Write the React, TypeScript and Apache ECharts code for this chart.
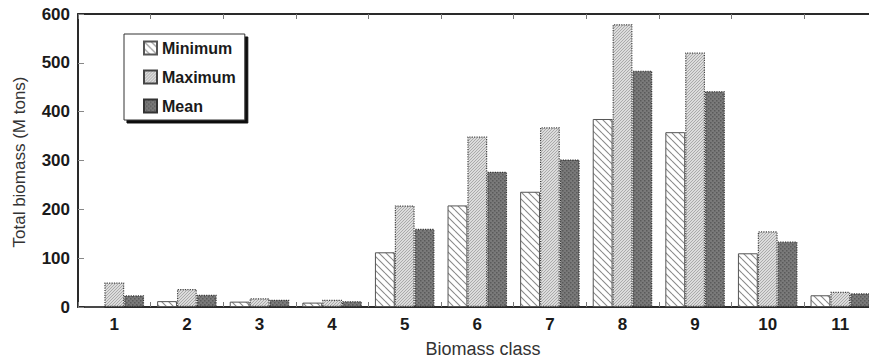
import React, { useEffect, useRef } from "react";
import * as echarts from "echarts";

const categories = ["1", "2", "3", "4", "5", "6", "7", "8", "9", "10", "11"];
const minimumValues = [0, 12, 11, 9, 112, 208, 236, 385, 358, 110, 24];
const maximumValues = [50, 37, 18, 15, 208, 349, 368, 579, 521, 155, 31];
const meanValues = [24, 25, 15, 12, 160, 277, 302, 484, 442, 134, 28];
const seriesNames = ["Minimum", "Maximum", "Mean"];
const yTitle = "Total biomass (M tons)";
const xTitle = "Biomass class";

const FONT = "'Liberation Sans', Arial, Helvetica, sans-serif";

function hatchPattern(bg: string, fg: string, size: number, lw: number, dir: "back" | "fwd") {
  const c = document.createElement("canvas");
  c.width = size;
  c.height = size;
  const ctx = c.getContext("2d")!;
  ctx.fillStyle = bg;
  ctx.fillRect(0, 0, size, size);
  ctx.strokeStyle = fg;
  ctx.lineWidth = lw;
  ctx.beginPath();
  for (let k = -1; k <= 1; k++) {
    if (dir === "back") {
      ctx.moveTo(0, k * size);
      ctx.lineTo(size, size + k * size);
    } else {
      ctx.moveTo(0, size + k * size);
      ctx.lineTo(size, k * size);
    }
  }
  ctx.stroke();
  return { image: c, repeat: "repeat", imageWidth: size, imageHeight: size } as any;
}

function dotPattern(bg: string, fg: string, size: number) {
  const c = document.createElement("canvas");
  c.width = size;
  c.height = size;
  const ctx = c.getContext("2d")!;
  ctx.fillStyle = bg;
  ctx.fillRect(0, 0, size, size);
  ctx.fillStyle = fg;
  ctx.fillRect(0, 0, 1.5, 1.5);
  ctx.fillRect(size / 2, size / 2, 1.5, 1.5);
  return { image: c, repeat: "repeat", imageWidth: size, imageHeight: size } as any;
}

export default function App() {
  const ref = useRef<HTMLDivElement>(null);
  useEffect(() => {
    if (!ref.current) return;
    const chart = echarts.init(ref.current, null, { renderer: "svg" });
    const minFill = hatchPattern("#ffffff", "#8a8a8a", 7, 1.1, "back");
    const maxFill = hatchPattern("#dcdcdc", "#a4a4a4", 3, 0.9, "fwd");
    const meanFill = dotPattern("#7a7a7a", "#5a5a5a", 4);

    const option: any = {
      animation: false,
      backgroundColor: "#ffffff",
      textStyle: { fontFamily: FONT },
      grid: { left: 78, top: 14, width: 798.6, height: 293, containLabel: false },
      legend: {
        orient: "vertical",
        left: 124,
        top: 34,
        data: seriesNames,
        icon: "rect",
        itemWidth: 13,
        itemHeight: 13,
        itemGap: 13,
        padding: [6, 9, 6, 19],
        backgroundColor: "#ffffff",
        borderColor: "#333333",
        borderWidth: 1,
        shadowColor: "#111111",
        shadowBlur: 0,
        shadowOffsetX: 3,
        shadowOffsetY: 3,
        textStyle: { fontFamily: FONT, fontSize: 16, fontWeight: "bold", color: "#1a1a1a" },
      },
      xAxis: [
        {
          type: "category",
          data: categories,
          position: "bottom",
          axisLine: { show: true, lineStyle: { color: "#2a2a2a", width: 2 } },
          axisTick: { show: true, inside: true, length: 5, alignWithLabel: false, lineStyle: { color: "#777777", width: 1 } },
          axisLabel: { fontFamily: FONT, fontSize: 17, fontWeight: "bold", color: "#1a1a1a", margin: 9 },
          splitLine: { show: false },
        },
        {
          type: "category",
          data: categories,
          position: "top",
          axisLine: { show: true, lineStyle: { color: "#2a2a2a", width: 2 } },
          axisTick: { show: true, inside: true, length: 5, lineStyle: { color: "#777777", width: 1 } },
          axisLabel: { show: false },
          splitLine: { show: false },
        },
      ],
      yAxis: {
        type: "value",
        min: 0,
        max: 600,
        interval: 100,
        axisLine: { show: true, lineStyle: { color: "#2a2a2a", width: 2 } },
        axisTick: { show: true, inside: true, length: 6, lineStyle: { color: "#888888", width: 1 } },
        axisLabel: { fontFamily: FONT, fontSize: 17, fontWeight: "bold", color: "#1a1a1a", margin: 8 },
        splitLine: { show: false },
      },
      graphic: [
        {
          type: "text",
          x: 19,
          y: 162,
          rotation: Math.PI / 2,
          style: {
            text: yTitle,
            fontFamily: FONT,
            fontSize: 17,
            fill: "#333333",
            textAlign: "center",
            textVerticalAlign: "middle",
          },
        },
        {
          type: "text",
          x: 483,
          y: 349,
          style: {
            text: xTitle,
            fontFamily: FONT,
            fontSize: 18,
            fill: "#333333",
            textAlign: "center",
            textVerticalAlign: "middle",
          },
        },
      ],
      series: [
        {
          name: seriesNames[0],
          type: "bar",
          data: minimumValues,
          barGap: "0%",
          barCategoryGap: "18%",
          itemStyle: { color: minFill, borderColor: "#555555", borderWidth: 1 },
        },
        {
          name: seriesNames[1],
          type: "bar",
          data: maximumValues,
          barGap: "0%",
          barCategoryGap: "18%",
          itemStyle: { color: maxFill, borderColor: "#444444", borderWidth: 1.2, borderType: "dotted" },
        },
        {
          name: seriesNames[2],
          type: "bar",
          data: meanValues,
          barGap: "0%",
          barCategoryGap: "18%",
          itemStyle: { color: meanFill, borderColor: "#333333", borderWidth: 1.2, borderType: "dotted" },
        },
      ],
    };
    chart.setOption(option);
    return () => chart.dispose();
  }, []);
  return (
    <div style={{ width: 869, height: 361, position: "absolute", left: 0, top: 0, overflow: "hidden", background: "#ffffff" }}>
      <div ref={ref} style={{ width: 877, height: 361, position: "absolute", left: 0, top: 0 }} />
    </div>
  );
}
